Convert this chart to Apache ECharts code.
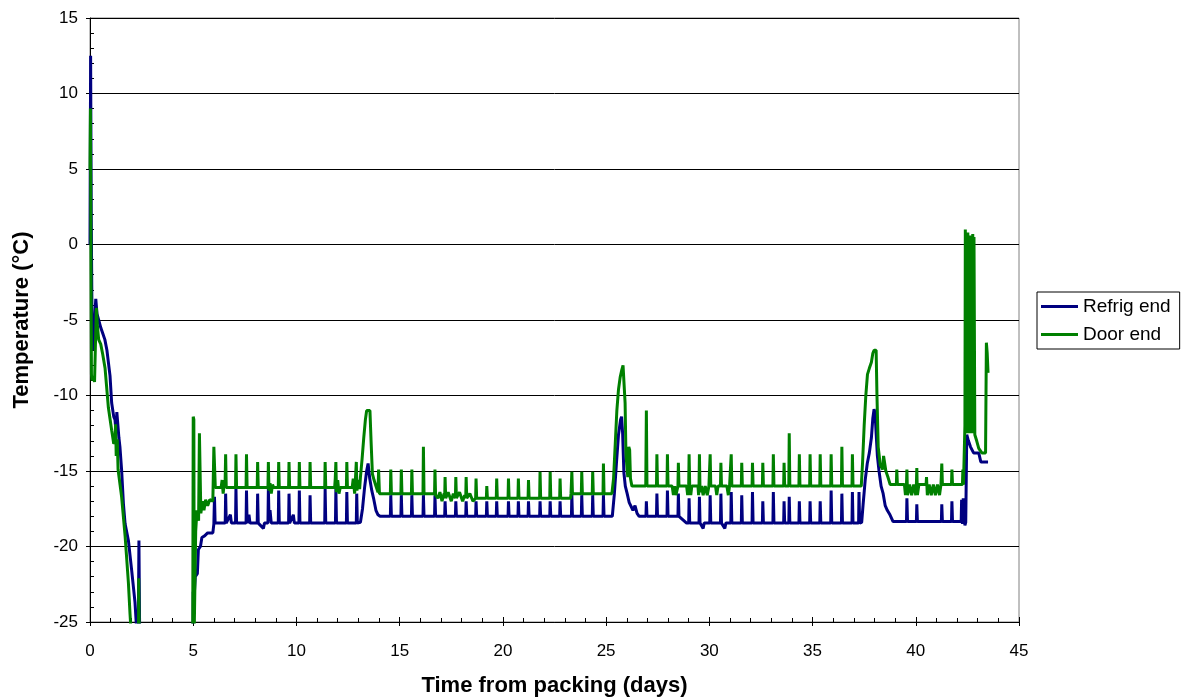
<!DOCTYPE html>
<html>
<head>
<meta charset="utf-8">
<script src="https://cdn.jsdelivr.net/npm/echarts@6/dist/echarts.min.js"></script>
<style>
html,body{margin:0;padding:0;background:#fff;}
#chart{width:1187px;height:698px;}
</style>
</head>
<body>
<div id="chart"></div>
<script>
// ---- Data (days, °C) ----
const seriesNames = ['Refrig end', 'Door end'];
const xTicks = [0, 5, 10, 15, 20, 25, 30, 35, 40, 45];
const yTicks = [-25, -20, -15, -10, -5, 0, 5, 10, 15];

const refrigEnd = [
[0.00,0.0],[0.03,12.5],[0.06,2.0],[0.10,-5.5],[0.15,-7.0],[0.20,-5.6],[0.28,-3.6],[0.34,-4.6],[0.42,-5.0],[0.52,-5.5],[0.62,-5.9],[0.72,-6.3],[0.82,-7.0],[0.97,-8.7],[1.05,-10.5],[1.15,-11.4],[1.21,-11.6],[1.26,-12.4],[1.30,-11.1],[1.34,-11.2],[1.40,-12.8],[1.45,-13.4],[1.53,-14.9],[1.62,-17.2],[1.70,-18.5],[1.86,-19.6],[2.02,-21.6],[2.18,-23.7],[2.28,-26.0],[2.32,-30],
[2.35,-30],[2.37,-19.6],[2.40,-19.6],[2.43,-30],[4.98,-30],
[5.00,-23.0],[5.05,-23.2],[5.10,-22.0],[5.20,-21.8],[5.25,-20.2],[5.35,-20.0],[5.42,-19.4],[5.55,-19.3],[5.70,-19.1],[5.95,-19.1],[6.00,-18.5],[6.03,-16.7],[6.06,-18.45],
[6.55,-18.45],[6.57,-16.5],[6.60,-18.45],[6.80,-17.9],[6.85,-18.45],
[7.05,-18.45],[7.07,-16.1],[7.10,-18.45],
[7.56,-18.45],[7.58,-16.3],[7.61,-18.45],[7.70,-17.9],[7.75,-18.45],
[8.10,-18.45],[8.12,-16.5],[8.15,-18.45],[8.40,-18.8],[8.45,-18.45],
[8.62,-18.45],[8.64,-16.2],[8.67,-18.0],[8.72,-17.6],[8.78,-18.45],
[9.12,-18.45],[9.14,-16.3],[9.17,-18.45],
[9.62,-18.45],[9.64,-16.5],[9.67,-18.45],[9.85,-17.9],[9.90,-18.45],
[10.12,-18.45],[10.14,-16.3],[10.17,-18.45],
[10.64,-18.45],[10.66,-16.6],[10.69,-18.45],
[11.37,-18.45],[11.39,-16.2],[11.42,-18.45],
[11.89,-18.45],[11.91,-16.2],[11.94,-18.45],
[12.42,-18.45],[12.44,-16.4],[12.47,-18.45],
[12.90,-18.45],[12.92,-16.5],[12.95,-18.45],
[13.10,-18.4],[13.20,-17.5],[13.30,-16.1],[13.40,-15.0],[13.47,-14.5],[13.55,-15.5],[13.65,-16.3],[13.75,-16.9],[13.85,-17.6],[13.95,-17.9],[14.05,-18.0],
[14.55,-18.0],[14.57,-16.6],[14.60,-18.0],
[15.06,-18.0],[15.08,-16.6],[15.11,-18.0],
[15.57,-18.0],[15.59,-16.6],[15.62,-18.0],
[16.13,-18.0],[16.15,-16.6],[16.18,-18.0],
[16.69,-18.0],[16.71,-16.6],[16.74,-18.0],
[17.18,-18.0],[17.20,-17.0],[17.23,-18.0],
[17.70,-18.0],[17.72,-17.0],[17.75,-18.0],
[18.20,-18.0],[18.22,-17.0],[18.25,-18.0],
[18.68,-18.0],[18.70,-17.0],[18.73,-18.0],
[19.20,-18.0],[19.22,-17.0],[19.25,-18.0],
[19.68,-18.0],[19.70,-17.0],[19.73,-18.0],
[20.25,-18.0],[20.27,-17.0],[20.30,-18.0],
[20.73,-18.0],[20.75,-17.0],[20.78,-18.0],
[21.22,-18.0],[21.24,-17.0],[21.27,-18.0],
[21.78,-18.0],[21.80,-17.0],[21.83,-18.0],
[22.27,-18.0],[22.29,-17.0],[22.32,-18.0],
[22.75,-18.0],[22.77,-17.0],[22.80,-18.0],
[23.32,-18.0],[23.34,-16.6],[23.37,-18.0],
[23.80,-18.0],[23.82,-16.6],[23.85,-18.0],
[24.33,-18.0],[24.35,-16.6],[24.38,-18.0],
[24.85,-18.0],[24.87,-16.6],[24.90,-18.0],
[25.30,-18.0],[25.40,-16.5],[25.50,-14.5],[25.60,-12.6],[25.70,-11.6],[25.75,-11.4],[25.80,-12.5],[25.86,-15.1],[25.93,-16.0],[26.02,-16.5],[26.12,-17.1],[26.20,-17.1],[26.30,-17.6],[26.40,-17.3],[26.50,-17.8],[26.60,-18.0],
[26.93,-18.0],[26.95,-17.0],[26.98,-18.0],
[27.44,-18.0],[27.46,-16.5],[27.49,-18.0],
[27.95,-18.0],[27.97,-16.3],[28.00,-18.0],
[28.48,-18.0],[28.50,-16.5],[28.53,-18.0],
[28.90,-18.45],
[29.00,-18.45],[29.02,-16.8],[29.05,-18.45],
[29.50,-18.45],[29.52,-16.7],[29.55,-18.45],[29.70,-18.8],[29.75,-18.45],
[30.02,-18.45],[30.04,-16.6],[30.07,-18.45],
[30.54,-18.45],[30.56,-16.5],[30.59,-18.45],[30.75,-18.8],[30.80,-18.45],
[31.04,-18.45],[31.06,-16.4],[31.09,-18.45],
[31.55,-18.45],[31.57,-16.6],[31.60,-18.45],
[32.07,-18.45],[32.09,-16.4],[32.12,-18.45],
[32.57,-18.45],[32.59,-17.0],[32.62,-18.45],
[33.08,-18.45],[33.10,-16.4],[33.13,-18.45],
[33.60,-18.45],[33.62,-17.0],[33.65,-18.45],
[33.85,-18.45],[33.87,-16.7],[33.90,-18.45],
[34.34,-18.45],[34.36,-17.0],[34.39,-18.45],
[34.86,-18.45],[34.88,-17.0],[34.91,-18.45],
[35.35,-18.45],[35.37,-17.0],[35.40,-18.45],
[35.88,-18.45],[35.90,-16.3],[35.93,-18.45],
[36.40,-18.45],[36.42,-16.5],[36.45,-18.45],
[36.91,-18.45],[36.93,-16.4],[36.96,-18.45],
[37.23,-18.45],[37.25,-16.4],[37.28,-18.45],
[37.38,-18.4],[37.45,-17.2],[37.55,-15.6],[37.65,-14.5],[37.75,-13.8],[37.85,-12.8],[37.92,-11.5],[37.98,-10.9],[38.03,-11.2],[38.08,-12.5],[38.14,-14.0],[38.22,-15.0],[38.32,-16.0],[38.42,-16.5],[38.52,-17.3],[38.62,-17.6],[38.75,-17.9],[38.90,-18.35],
[39.55,-18.35],[39.57,-16.8],[39.60,-18.35],
[40.03,-18.35],[40.05,-17.2],[40.08,-18.35],
[41.24,-18.35],[41.26,-17.2],[41.29,-18.35],
[41.73,-18.35],[41.75,-17.0],[41.78,-18.35],
[42.20,-18.35],[42.22,-16.9],[42.26,-18.5],[42.30,-16.8],
[42.38,-18.6],[42.42,-18.4],[42.47,-12.6],[42.55,-13.0],[42.65,-13.4],[42.80,-13.8],[43.05,-13.8],[43.15,-14.4],[43.50,-14.4]
];

const doorEnd = [
[0.00,5.0],[0.02,9.0],[0.05,-2.0],[0.07,-8.6],[0.10,-9.0],[0.16,-8.8],[0.22,-9.1],[0.26,-6.8],[0.31,-4.2],[0.36,-5.4],[0.42,-6.3],[0.52,-6.6],[0.62,-7.3],[0.73,-8.2],[0.89,-10.8],[1.05,-12.3],[1.15,-13.2],[1.21,-13.0],[1.24,-11.9],[1.27,-14.0],[1.32,-12.9],[1.36,-14.9],[1.53,-16.7],[1.70,-19.3],[1.86,-22.4],[1.94,-24.5],[2.05,-27.0],[2.15,-30],
[2.34,-30],[2.36,-22.1],[2.40,-22.1],[2.42,-30],[4.97,-30],
[5.00,-11.4],[5.03,-11.6],[5.05,-25.5],[5.09,-25.5],[5.12,-19.0],[5.18,-17.6],[5.26,-18.3],[5.30,-12.5],[5.34,-12.6],[5.37,-17.8],[5.45,-17.0],[5.52,-17.6],[5.60,-16.9],[5.70,-17.3],[5.80,-16.9],[5.95,-17.0],[6.00,-13.4],[6.04,-13.4],[6.07,-16.1],
[6.35,-16.1],[6.40,-15.6],[6.45,-16.5],[6.50,-15.8],[6.54,-16.1],[6.57,-13.9],[6.60,-16.1],
[7.05,-16.1],[7.07,-13.9],[7.10,-16.1],
[7.56,-16.1],[7.58,-13.9],[7.61,-16.1],
[8.10,-16.1],[8.12,-14.4],[8.15,-16.1],
[8.62,-16.1],[8.64,-14.4],[8.67,-16.3],[8.72,-15.8],[8.78,-16.5],[8.84,-15.9],[8.90,-16.1],
[9.12,-16.1],[9.14,-14.4],[9.17,-16.1],
[9.62,-16.1],[9.64,-14.4],[9.67,-16.1],
[10.12,-16.1],[10.14,-14.4],[10.17,-16.1],
[10.64,-16.1],[10.66,-14.4],[10.69,-16.1],
[11.37,-16.1],[11.39,-14.4],[11.42,-16.1],
[11.85,-16.1],[11.88,-15.5],[11.91,-14.4],[11.94,-16.4],[12.00,-15.6],[12.06,-16.5],[12.12,-16.1],
[12.42,-16.1],[12.44,-14.4],[12.47,-16.1],
[12.70,-16.1],[12.75,-15.5],[12.82,-16.5],[12.90,-14.4],[12.93,-16.3],[13.00,-15.6],[13.06,-16.2],
[13.10,-15.4],[13.18,-14.2],[13.26,-12.8],[13.34,-11.6],[13.40,-11.0],[13.56,-11.0],[13.62,-13.2],[13.68,-15.2],[13.76,-15.6],[13.85,-16.0],[13.95,-16.4],[13.98,-14.9],[14.02,-16.5],
[14.55,-16.5],[14.57,-14.9],[14.60,-16.5],
[15.06,-16.5],[15.08,-14.9],[15.11,-16.5],
[15.57,-16.5],[15.59,-14.9],[15.62,-16.5],
[16.13,-16.5],[16.15,-13.4],[16.18,-16.5],
[16.69,-16.5],[16.71,-14.9],[16.74,-16.6],[16.85,-16.8],[16.95,-16.4],[17.05,-17.0],[17.15,-16.5],
[17.18,-16.8],[17.20,-15.4],[17.23,-16.8],[17.35,-16.4],[17.50,-17.0],[17.60,-16.5],
[17.70,-16.8],[17.72,-15.4],[17.75,-16.8],[17.90,-16.4],[18.05,-17.0],[18.15,-16.6],
[18.20,-16.8],[18.22,-15.4],[18.25,-16.8],[18.40,-16.5],[18.55,-17.0],
[18.68,-16.8],[18.70,-15.5],[18.73,-16.8],
[19.20,-16.8],[19.22,-16.0],[19.25,-16.8],
[19.68,-16.8],[19.70,-15.5],[19.73,-16.8],
[20.25,-16.8],[20.27,-15.5],[20.30,-16.8],
[20.73,-16.8],[20.75,-15.5],[20.78,-16.8],
[21.22,-16.8],[21.24,-15.6],[21.27,-16.8],
[21.78,-16.8],[21.80,-15.05],[21.83,-16.8],
[22.27,-16.8],[22.29,-15.05],[22.32,-16.8],
[22.75,-16.8],[22.77,-15.5],[22.80,-16.8],
[23.28,-16.8],[23.30,-16.5],
[23.32,-16.5],[23.34,-15.05],[23.37,-16.5],
[23.80,-16.5],[23.82,-15.05],[23.85,-16.5],
[24.33,-16.5],[24.35,-15.05],[24.38,-16.5],
[24.85,-16.5],[24.87,-14.5],[24.90,-16.5],
[25.28,-16.5],[25.36,-15.5],[25.45,-13.0],[25.52,-11.0],[25.60,-9.6],[25.68,-8.8],[25.76,-8.3],[25.82,-8.0],[25.88,-8.0],[25.92,-10.5],[25.96,-13.8],[26.00,-14.6],[26.05,-15.4],[26.10,-13.4],[26.14,-13.6],[26.18,-15.5],[26.25,-16.0],
[26.92,-16.0],[26.95,-11.0],[26.98,-16.0],
[27.44,-16.0],[27.46,-13.9],[27.49,-16.0],
[27.95,-16.0],[27.97,-13.9],[28.00,-16.0],
[28.20,-16.0],[28.26,-16.6],[28.32,-16.0],[28.38,-16.6],
[28.48,-16.0],[28.50,-14.45],[28.53,-16.0],
[28.90,-16.0],[28.95,-16.6],[29.00,-16.0],
[29.02,-13.9],[29.05,-16.0],[29.10,-16.6],[29.15,-16.0],
[29.45,-16.0],[29.48,-16.6],
[29.50,-16.0],[29.52,-13.9],[29.55,-16.4],[29.62,-16.0],[29.70,-16.6],[29.80,-16.0],[29.90,-16.6],[29.98,-16.0],
[30.02,-16.0],[30.04,-13.9],[30.07,-16.0],
[30.30,-16.0],[30.36,-16.6],[30.42,-16.0],
[30.54,-16.0],[30.56,-14.45],[30.59,-16.0],
[30.85,-16.0],[30.92,-16.6],[30.98,-16.0],
[31.04,-16.0],[31.06,-13.9],[31.09,-16.0],
[31.55,-16.0],[31.57,-14.45],[31.60,-16.0],
[32.07,-16.0],[32.09,-14.45],[32.12,-16.0],
[32.57,-16.0],[32.59,-14.45],[32.62,-16.0],
[33.08,-16.0],[33.10,-13.9],[33.13,-16.0],
[33.60,-16.0],[33.62,-14.45],[33.65,-16.0],
[33.85,-16.0],[33.87,-12.5],[33.90,-16.0],
[34.34,-16.0],[34.36,-13.9],[34.39,-16.0],
[34.86,-16.0],[34.88,-13.9],[34.91,-16.0],
[35.35,-16.0],[35.37,-13.9],[35.40,-16.0],
[35.88,-16.0],[35.90,-13.9],[35.93,-16.0],
[36.40,-16.0],[36.42,-13.4],[36.45,-16.0],
[36.91,-16.0],[36.93,-13.9],[36.96,-16.0],
[37.36,-16.0],[37.42,-14.5],[37.50,-12.0],[37.58,-10.0],[37.66,-8.6],[37.75,-8.2],[37.85,-7.8],[37.92,-7.2],[37.98,-7.0],[38.08,-7.0],[38.12,-10.0],[38.18,-13.4],[38.28,-14.6],[38.40,-14.9],[38.44,-14.0],[38.48,-14.0],[38.55,-15.0],[38.65,-15.4],[38.76,-15.9],
[39.06,-15.9],[39.08,-14.9],[39.11,-15.9],
[39.45,-15.9],[39.50,-16.6],[39.55,-15.9],[39.57,-14.9],[39.60,-16.6],[39.70,-15.9],[39.80,-16.6],[39.90,-15.9],[40.00,-16.6],
[40.03,-15.9],[40.05,-14.8],[40.08,-16.6],[40.15,-15.9],
[40.50,-15.9],[40.52,-15.4],[40.56,-16.6],[40.65,-15.9],[40.75,-16.6],[40.85,-15.9],[40.95,-16.6],[41.05,-15.9],[41.15,-16.6],[41.22,-15.9],
[41.24,-15.9],[41.26,-14.5],[41.29,-15.9],
[41.73,-15.9],[41.75,-14.9],[41.78,-15.9],
[42.26,-15.9],[42.28,-14.9],[42.31,-15.9],
[42.35,-15.9],[42.38,-12.0],[42.40,1.0],[42.43,-12.5],[42.46,0.4],[42.49,-12.2],[42.52,0.8],[42.55,-12.5],[42.58,0.2],[42.61,-12.3],[42.64,0.6],[42.67,-12.5],[42.70,0.3],[42.73,-12.0],[42.76,0.7],[42.79,-12.5],[42.82,0.5],[42.86,-12.6],[42.95,-13.0],[43.05,-13.5],[43.20,-13.8],[43.38,-13.8],[43.42,-6.5],[43.46,-7.2],[43.50,-8.5]
];

const FONT = '"Liberation Sans", Arial, sans-serif';
const chart = echarts.init(document.getElementById('chart'), null, {renderer: 'canvas'});
const xMin = xTicks[0], xMax = xTicks[xTicks.length - 1];
const yMin = yTicks[0], yMax = yTicks[yTicks.length - 1];
const step = 5;

chart.setOption({
  animation: false,
  backgroundColor: '#fff',
  grid: {left: 90, right: 168, top: 18, bottom: 76, outerBoundsMode: 'none', containLabel: false,
         show: true, borderColor: '#808080', borderWidth: 1, backgroundColor: '#fff'},
  legend: {
    orient: 'vertical', left: 1037, top: 292,
    data: seriesNames, icon: 'rect', itemWidth: 37, itemHeight: 3, itemGap: 9,
    textStyle: {fontFamily: FONT, fontSize: 19, color: '#000'},
    borderColor: '#000', borderWidth: 1, padding: [5, 9, 5, 4], backgroundColor: '#fff'
  },
  xAxis: [{
    type: 'value', min: xMin, max: xMax, interval: step,
    axisLine: {onZero: false, lineStyle: {color: '#000', width: 1}},
    axisTick: {inside: true, length: 5, lineStyle: {color: '#000'}},
    minorTick: {show: true, splitNumber: 5, length: 4, lineStyle: {color: '#000'}},
    splitLine: {show: false},
    axisLabel: {fontFamily: FONT, fontSize: 17, color: '#000', margin: 21},
    name: 'Time from packing (days)', nameLocation: 'middle', nameGap: 53,
    nameTextStyle: {fontFamily: FONT, fontSize: 22, fontWeight: 'bold', color: '#000'}
  }, {
    type: 'value', min: xMin, max: xMax, interval: step, position: 'bottom',
    axisLine: {show: false, onZero: false}, axisTick: {show: true, inside: false, length: 4, lineStyle: {color: '#000'}},
    axisLabel: {show: false}, splitLine: {show: false}
  }],
  yAxis: [{
    type: 'value', min: yMin, max: yMax, interval: step,
    axisLine: {show: true, onZero: false, lineStyle: {color: '#000', width: 1}},
    axisTick: {show: true, inside: true, length: 5, lineStyle: {color: '#000'}},
    minorTick: {show: true, splitNumber: 5, length: 4, lineStyle: {color: '#000'}},
    splitLine: {show: true, lineStyle: {color: '#000', width: 1}},
    axisLabel: {fontFamily: FONT, fontSize: 17, color: '#000', margin: 12},
    name: 'Temperature (°C)', nameLocation: 'middle', nameGap: 57,
    nameTextStyle: {fontFamily: FONT, fontSize: 22, fontWeight: 'bold', color: '#000'}
  }, {
    type: 'value', min: yMin, max: yMax, interval: step, position: 'left',
    axisLine: {show: false, onZero: false}, axisTick: {show: true, inside: false, length: 4, lineStyle: {color: '#000'}},
    axisLabel: {show: false}, splitLine: {show: false}
  }],
  series: [
    {name: seriesNames[0], type: 'line', data: refrigEnd, showSymbol: false, symbol: 'none', clip: true,
     lineStyle: {color: '#000080', width: 3}, itemStyle: {color: '#000080'}},
    {name: seriesNames[1], type: 'line', data: doorEnd, showSymbol: false, symbol: 'none', clip: true,
     lineStyle: {color: '#008000', width: 3}, itemStyle: {color: '#008000'}}
  ]
});
</script>
</body>
</html>
